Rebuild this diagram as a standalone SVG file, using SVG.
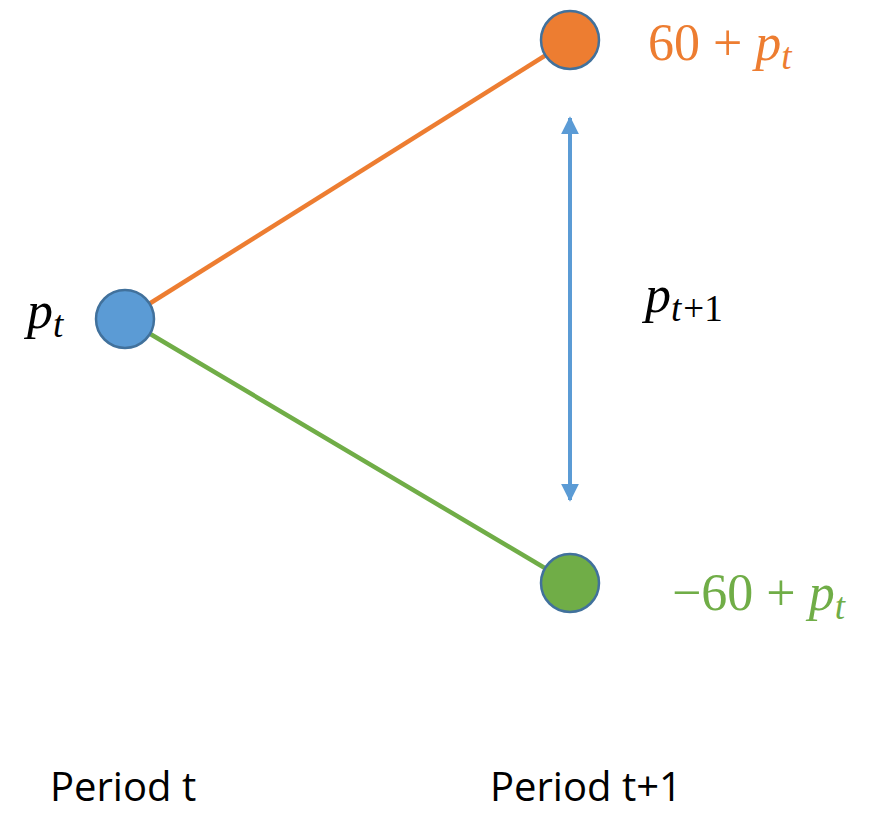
<svg xmlns="http://www.w3.org/2000/svg" width="882" height="814" viewBox="0 0 882 814">
<defs>
<style>
.node{stroke:#41719C;stroke-width:2.5}
.math{font-family:"Liberation Serif","DejaVu Serif",serif;font-size:52px}
.it{font-style:italic}
.sub{font-size:37px;font-style:italic}
.lbl{font-family:"Open Sans","Noto Sans",sans-serif;font-size:40px;fill:#000}
</style>
<marker id="ah" viewBox="0 0 10 10" refX="9" refY="5" markerWidth="4.5" markerHeight="4.5" orient="auto-start-reverse" markerUnits="strokeWidth">
<path d="M0,0 L10,5 L0,10 z" fill="#5B9BD5"/>
</marker>
</defs>
<rect width="882" height="814" fill="#fff"/>
<g id="connectors">
<line x1="125" y1="319" x2="570" y2="40" stroke="#ED7D31" stroke-width="4.5"/>
<line x1="125" y1="319" x2="570" y2="583" stroke="#70AD47" stroke-width="4.5"/>
<line x1="570" y1="118" x2="570" y2="500" stroke="#5B9BD5" stroke-width="4" marker-start="url(#ah)" marker-end="url(#ah)"/>
</g>
<g id="node-top">
<circle class="node" cx="570" cy="40" r="29" fill="#ED7D31"/>
<text class="math" x="648" y="60" fill="#ED7D31">60 + <tspan class="it">p</tspan><tspan class="sub" dy="9">t</tspan></text>
</g>
<g id="node-left">
<circle class="node" cx="125" cy="319" r="29" fill="#5B9BD5"/>
<text class="math" x="27" y="328" fill="#000"><tspan class="it">p</tspan><tspan class="sub" dy="9">t</tspan></text>
</g>
<g id="node-bottom">
<circle class="node" cx="570" cy="583" r="29" fill="#70AD47"/>
<text class="math" x="672" y="610" fill="#70AD47">−60 + <tspan class="it">p</tspan><tspan class="sub" dy="9">t</tspan></text>
</g>
<g id="label-arrow">
<text class="math" x="645" y="312" fill="#000"><tspan class="it">p</tspan><tspan class="sub" dy="9">t</tspan><tspan font-size="37px" font-style="normal" dx="2">+1</tspan></text>
</g>
<g id="period-labels">
<text class="lbl" x="50" y="801">Period t</text>
<text class="lbl" x="490" y="801">Period t+1</text>
</g>
</svg>
